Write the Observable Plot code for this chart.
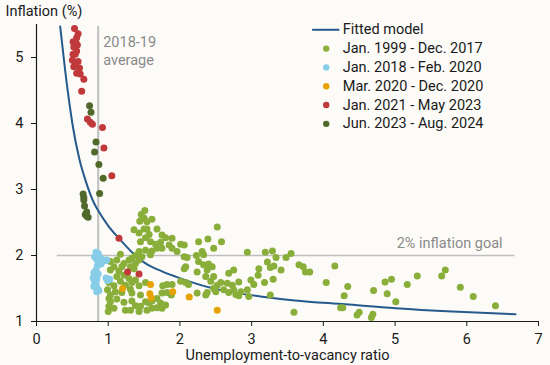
<!DOCTYPE html>
<html><head><meta charset="utf-8">
<script src="https://cdn.jsdelivr.net/npm/d3@7"></script>
<script src="https://cdn.jsdelivr.net/npm/@observablehq/plot@0.6"></script>
<style>
html,body{margin:0;padding:0;background:#fcfbf8;}
#chart{width:550px;height:365px;}
</style></head><body><div id="chart"></div>
<script>
const seriesNames = ["Jan. 1999 - Dec. 2017","Jan. 2018 - Feb. 2020","Mar. 2020 - Dec. 2020","Jan. 2021 - May 2023","Jun. 2023 - Aug. 2024"];
const seriesColors = ["#8aae3a","#87cde8","#e5a200","#c0393b","#50692a"];
const fitLabel = "Fitted model";
const xTicks = [0,1,2,3,4,5,6,7];
const yTicks = [1,2,3,4,5];
const avgRatio = 0.86;
const inflationGoal = 2;

// fitted model curve
const fitX = [0.33,0.40,0.47,0.50,0.60,0.68,0.80,0.85,1.00,1.15,1.35,1.52,1.75,1.94,2.33,2.80,3.12,3.60,4.31,5.01,5.80,6.68];
const fitY = [5.47,4.80,4.22,4.00,3.45,3.15,2.80,2.70,2.45,2.26,2.03,1.88,1.76,1.68,1.54,1.43,1.38,1.32,1.26,1.20,1.15,1.11];

const s1999 = [[1.51,2.68],[1.46,2.62],[1.50,2.57],[1.61,2.55],[1.44,2.52],[1.54,2.51],[1.36,2.39],[1.50,2.40],[1.54,2.40],[1.68,2.40],[1.43,2.34],[1.57,2.32],[1.52,2.27],[1.75,2.31],[1.80,2.27],[1.89,2.26],[1.45,2.21],[1.59,2.21],[1.66,2.17],[1.73,2.20],[1.85,2.16],[1.75,2.11],[1.89,2.11],[1.68,2.11],[1.17,2.02],[1.43,2.06],[1.52,2.08],[1.61,2.07],[1.38,2.00],[1.33,1.96],[1.59,2.01],[1.47,1.98],[1.03,1.91],[1.12,1.93],[1.29,1.93],[1.22,1.88],[1.38,1.88],[1.43,1.93],[1.08,1.83],[1.19,1.83],[1.31,1.83],[1.03,1.78],[1.15,1.76],[1.36,1.80],[1.22,1.70],[1.12,1.68],[1.29,1.65],[1.17,1.61],[1.38,1.63],[1.33,1.59],[1.01,1.59],[1.08,1.54],[1.24,1.55],[1.31,1.49],[1.43,1.54],[1.52,1.59],[1.76,1.54],[1.82,1.56],[0.99,1.48],[1.10,1.45],[1.19,1.44],[1.03,1.40],[1.33,1.43],[1.45,1.40],[1.75,1.43],[1.82,1.44],[1.88,1.40],[1.01,1.35],[1.12,1.34],[1.03,1.30],[1.22,1.29],[1.33,1.31],[1.52,1.30],[1.61,1.31],[1.68,1.35],[1.73,1.28],[1.80,1.25],[1.01,1.23],[1.08,1.20],[1.00,1.15],[1.38,1.24],[1.45,1.23],[1.57,1.28],[1.61,1.20],[1.68,1.21],[1.75,1.20],[1.24,1.17],[1.31,1.17],[1.43,1.15],[1.54,1.17],
[2.52,2.43],[2.01,2.17],[2.06,2.16],[1.96,2.06],[2.39,2.25],[2.58,2.21],[2.26,2.21],[2.47,2.11],[2.31,2.06],[2.33,2.01],[2.23,2.00],[2.06,1.98],[2.10,1.97],[2.94,2.05],[2.08,1.83],[2.06,1.80],[2.26,1.91],[2.33,1.86],[2.40,1.87],[2.45,1.83],[2.38,1.78],[2.24,1.75],[2.75,1.78],[2.68,1.73],[3.10,1.80],[3.09,1.70],[2.36,1.68],[2.47,1.68],[2.43,1.61],[2.01,1.61],[2.08,1.59],[2.12,1.56],[1.89,1.56],[2.57,1.59],[2.52,1.55],[2.66,1.58],[2.73,1.55],[2.82,1.60],[2.99,1.63],[3.03,1.56],[2.47,1.50],[2.61,1.48],[2.75,1.48],[2.85,1.45],[2.94,1.48],[2.24,1.43],[2.38,1.44],[2.50,1.45],[2.68,1.44],[2.78,1.41],[2.82,1.39],[2.96,1.38],[2.36,1.40],
[3.19,2.05],[3.29,2.07],[3.34,1.97],[3.48,1.97],[3.55,2.03],[3.22,1.90],[3.26,1.82],[3.31,1.84],[3.41,1.78],[3.18,1.59],[3.30,1.64],[3.66,1.86],[3.72,1.83],[3.75,1.75],[3.81,1.75],[4.16,1.84],[4.04,1.59],[4.34,1.53],[4.29,1.39],[3.26,1.40],[4.24,1.21],[4.27,1.21],[3.59,1.14],
[4.50,1.14],[4.47,1.10],[4.69,1.11],[4.67,1.06],[4.70,1.47],[4.86,1.60],[4.95,1.64],[4.89,1.42],[5.01,1.30],[5.17,1.56],[5.31,1.69],[5.65,1.69],[5.70,1.78],[5.91,1.52],[6.09,1.38],[6.40,1.24]];
const s2018 = [[0.83,2.05],[0.86,2.03],[0.81,1.98],[0.88,1.98],[0.84,1.94],[0.92,1.94],[0.96,1.92],[0.87,1.89],[0.90,1.87],[0.98,1.93],[0.85,1.85],[0.83,1.78],[0.80,1.74],[0.86,1.72],[0.82,1.68],[0.79,1.66],[0.84,1.64],[0.97,1.66],[1.02,1.64],[0.99,1.62],[0.81,1.60],[0.83,1.57],[0.80,1.53],[0.85,1.50],[0.87,1.47],[0.84,1.45]];
const s2020 = [[1.20,1.50],[1.59,1.56],[1.58,1.42],[1.60,1.36],[1.90,1.45],[2.13,1.37],[2.52,1.17]];
const s2021 = [[0.53,5.44],[0.58,5.36],[0.56,5.30],[0.51,5.24],[0.57,5.19],[0.52,5.16],[0.55,5.22],[0.56,5.10],[0.51,5.05],[0.54,5.05],[0.50,4.96],[0.58,4.94],[0.54,4.90],[0.52,4.86],[0.60,4.84],[0.56,4.76],[0.61,4.75],[0.66,4.67],[0.63,4.49],[0.71,4.07],[0.75,4.02],[0.78,3.99],[0.92,3.94],[0.94,3.63],[1.05,3.21],[1.15,2.26],[1.27,1.75],[1.43,1.72]];
const s2023 = [[0.74,4.27],[0.76,4.17],[0.83,3.72],[0.81,3.57],[0.87,3.38],[0.93,3.17],[0.88,2.94],[0.65,2.93],[0.66,2.88],[0.66,2.84],[0.67,2.75],[0.70,2.66],[0.68,2.62],[0.70,2.60],[0.72,2.58]];

const seriesData = [s1999, s2018, s2020, s2021, s2023];
const points = seriesData.flatMap((arr, i) => arr.map(([x, y]) => ({x, y, s: seriesNames[i]})));
const fit = fitX.map((x, i) => ({x, y: fitY[i]}));
const legendRows = seriesNames.map((name, i) => ({name, y: 5.42 - 0.285 * (i + 1)}));

const font = "Roboto, 'Noto Sans', sans-serif";
const fs = 14.5;
const chart = Plot.plot({
  width: 550, height: 365,
  marginLeft: 36, marginRight: 12, marginTop: 24, marginBottom: 44,
  style: {fontFamily: font, fontSize: fs + "px", background: "#fcfbf8", color: "#1a1a1a", overflow: "visible"},
  x: {domain: [0, 7]},
  y: {domain: [1, 5.5]},
  color: {domain: seriesNames, range: seriesColors},
  marks: [
    Plot.ruleX([avgRatio], {y1: 1, y2: 5.47, stroke: "#bfbfbf", strokeWidth: 2}),
    Plot.ruleY([inflationGoal], {x1: 0.29, x2: 6.67, stroke: "#bfbfbf", strokeWidth: 1.5}),
    Plot.line(fit, {x: "x", y: "y", curve: "monotone-x", stroke: "#265a8c", strokeWidth: 2}),
    Plot.dot(points, {x: "x", y: "y", fill: "s", r: 3.5}),
    Plot.ruleY([1], {stroke: "#1a1a1a", strokeWidth: 1.2}),
    Plot.ruleX([0], {stroke: "#1a1a1a", strokeWidth: 1.2}),
    Plot.axisX({ticks: xTicks, tickSize: 5, tickPadding: 7, label: null, fontSize: fs, tickFormat: d => d}),
    Plot.axisY({ticks: yTicks, tickSize: 5, tickPadding: 8, label: null, fontSize: fs, tickFormat: d => d}),
    Plot.text(["2018-19\naverage"], {x: 0.93, y: 5.11, textAnchor: "start", lineAnchor: "middle", lineHeight: 1.27, fill: "#8a8a8a", fontSize: fs}),
    Plot.text(["2% inflation goal"], {x: 6.50, y: 2.18, textAnchor: "end", lineAnchor: "middle", fill: "#8a8a8a", fontSize: fs}),
    Plot.text(["Inflation (%)"], {frameAnchor: "top-left", dx: -31, dy: -13, textAnchor: "start", lineAnchor: "middle", fill: "#1a1a1a", fontSize: fs}),
    Plot.text(["Unemployment-to-vacancy ratio"], {frameAnchor: "bottom", dy: 34, lineAnchor: "middle", fill: "#1a1a1a", fontSize: fs}),
    // legend
    Plot.ruleY([5.42], {x1: 3.85, x2: 4.23, stroke: "#265a8c", strokeWidth: 2}),
    Plot.text([fitLabel], {x: 4.27, y: 5.42, textAnchor: "start", lineAnchor: "middle", fill: "#1a1a1a", fontSize: fs}),
    Plot.dot(legendRows, {x: () => 4.04, y: "y", fill: "name", r: 3.2}),
    Plot.text(legendRows, {x: () => 4.27, y: "y", text: "name", textAnchor: "start", lineAnchor: "middle", fill: "#1a1a1a", fontSize: fs})
  ]
});
document.getElementById("chart").appendChild(chart);
</script></body></html>
